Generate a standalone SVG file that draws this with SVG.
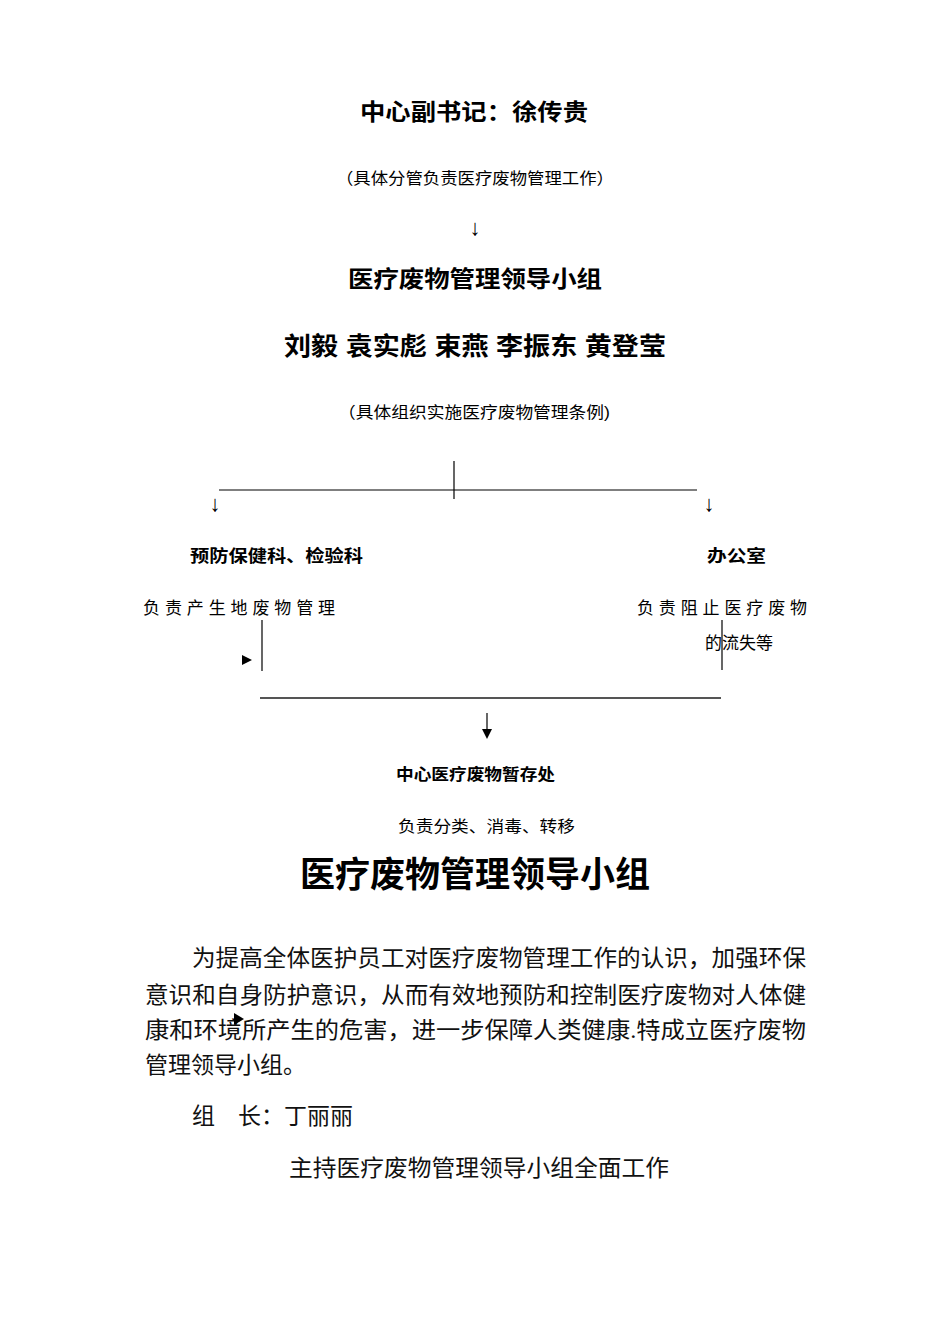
<svg xmlns="http://www.w3.org/2000/svg" width="950" height="1344" viewBox="0 0 950 1344">
<style>
.t{font-family:"Liberation Sans","Noto Sans CJK SC",sans-serif;fill:#000}
.b{font-weight:bold}
.s{font-family:"Liberation Serif","Noto Sans CJK SC",serif;fill:#111;font-size:23px}
.ln{stroke:#000;stroke-width:1.2;fill:none}
</style>
<rect width="950" height="1344" fill="#fff"/>
<g id="n-secretary">
<text class="t b" x="360" y="120" font-size="23" textLength="228" lengthAdjust="spacingAndGlyphs">中心副书记：徐传贵</text>
<text class="t" x="336" y="184" font-size="16" textLength="278" lengthAdjust="spacingAndGlyphs">（具体分管负责医疗废物管理工作）</text>
<text class="t" x="475" y="235" font-size="22" text-anchor="middle">↓</text>
</g>
<g id="n-group">
<text class="t b" x="348" y="287" font-size="23" textLength="254" lengthAdjust="spacingAndGlyphs">医疗废物管理领导小组</text>
<text class="t b" x="284" y="355" font-size="25" textLength="382" lengthAdjust="spacingAndGlyphs">刘毅  袁实彪  束燕  李振东  黄登莹</text>
<text class="t" x="338" y="418" font-size="16" textLength="272" lengthAdjust="spacingAndGlyphs">（具体组织实施医疗废物管理条例)</text>
</g>
<g id="n-prevent">
<text class="t b" x="190" y="562" font-size="17" textLength="173" lengthAdjust="spacingAndGlyphs">预防保健科、检验科</text>
<text class="t" x="143" y="614" font-size="17" textLength="192" lengthAdjust="spacing">负责产生地废物管理</text>
</g>
<g id="n-office">
<text class="t b" x="707" y="562" font-size="17" textLength="59" lengthAdjust="spacingAndGlyphs">办公室</text>
<text class="t" x="637" y="614" font-size="17" textLength="170" lengthAdjust="spacing">负责阻止医疗废物</text>
<text class="t" x="705" y="649" font-size="17">的流失等</text>
</g>
<g id="n-store">
<text class="t b" x="396" y="780" font-size="16" textLength="159" lengthAdjust="spacingAndGlyphs">中心医疗废物暂存处</text>
<text class="t" x="398" y="832" font-size="16" textLength="177" lengthAdjust="spacingAndGlyphs">负责分类、消毒、转移</text>
</g>
<g id="connectors">
<line class="ln" x1="454" y1="461" x2="454" y2="499"/>
<line class="ln" x1="219" y1="490" x2="697" y2="490"/>
<text class="t" x="215" y="511" font-size="22" text-anchor="middle">↓</text>
<text class="t" x="709" y="511" font-size="22" text-anchor="middle">↓</text>
<line class="ln" x1="262" y1="620" x2="262" y2="671"/>
<line class="ln" x1="722" y1="620" x2="722" y2="670"/>
<path d="M242,655 L252,660 L242,665 Z" fill="#000"/>
<line x1="260" y1="698" x2="721" y2="698" stroke="#555" stroke-width="2"/>
<line class="ln" x1="487" y1="713" x2="487" y2="730"/>
<path d="M482,729 L492,729 L487,739 Z" fill="#000"/>
</g>
<g id="body">
<text class="t b" x="300" y="887" font-size="35" textLength="350" lengthAdjust="spacingAndGlyphs">医疗废物管理领导小组</text>
<text class="s" x="192" y="966" textLength="614" lengthAdjust="spacingAndGlyphs">为提高全体医护员工对医疗废物管理工作的认识，加强环保</text>
<text class="s" x="145" y="1003" textLength="661" lengthAdjust="spacingAndGlyphs">意识和自身防护意识，从而有效地预防和控制医疗废物对人体健</text>
<text class="s" x="145" y="1038" textLength="661" lengthAdjust="spacingAndGlyphs">康和环境所产生的危害，进一步保障人类健康.特成立医疗废物</text>
<path d="M234,1013 L244,1019 L234,1025 Z" fill="#000"/>
<text class="s" x="145" y="1073">管理领导小组。</text>
<text class="s" x="192" y="1124">组　长：丁丽丽</text>
<text class="s" x="289" y="1176" textLength="380" lengthAdjust="spacingAndGlyphs">主持医疗废物管理领导小组全面工作</text>
</g>
</svg>
